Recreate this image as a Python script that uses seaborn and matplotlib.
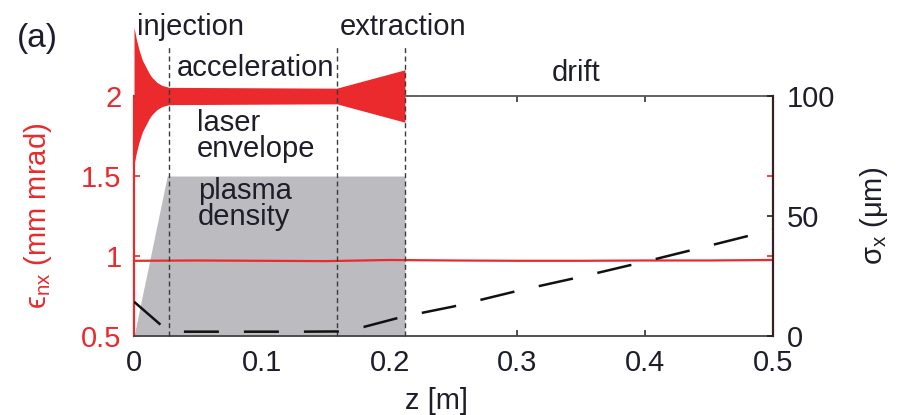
import matplotlib
matplotlib.use("Agg")
import matplotlib.pyplot as plt
import pandas as pd
import seaborn as sns

# ---- data -------------------------------------------------------------
# laser envelope (half width in emittance-axis units around its centre)
env_z = [0.0, 0.002, 0.004, 0.0065, 0.0094, 0.012, 0.014, 0.018, 0.022, 0.0275, 0.1586, 0.212]
env_half = [0.43, 0.35, 0.287, 0.225, 0.18, 0.14, 0.117, 0.085, 0.066, 0.054, 0.049, 0.164]
env_center = 2.0

# plasma density profile (drawn on the emittance axis)
dens_z = [0.0, 0.026, 0.212]
dens_top = [0.5, 1.5, 1.5]

# normalised emittance (mm mrad)
emit_z = [0.0, 0.05, 0.10, 0.15, 0.20, 0.25, 0.30, 0.35, 0.40, 0.45, 0.50]
emit_val = [0.970, 0.972, 0.970, 0.968, 0.975, 0.972, 0.970, 0.970, 0.972, 0.972, 0.975]

# rms beam size (um)
sigma_z = [0.0, 0.021, 0.03, 0.04, 0.07, 0.10, 0.13, 0.16, 0.18, 0.21, 0.25, 0.30, 0.35, 0.40, 0.45, 0.50]
sigma_val = [14.3, 4.6, 2.2, 1.8, 1.8, 1.8, 1.8, 1.9, 3.8, 8.0, 12.3, 18.8, 24.7, 31.0, 37.6, 44.3]

# stage boundaries (m)
stage_z = [0.0274, 0.1586, 0.212]

x_ticks = [0, 0.1, 0.2, 0.3, 0.4, 0.5]
x_ticklabels = ["0", "0.1", "0.2", "0.3", "0.4", "0.5"]
emit_ticks = [0.5, 1.0, 1.5, 2.0]
emit_ticklabels = ["0.5", "1", "1.5", "2"]
sigma_ticks = [0, 50, 100]
sigma_ticklabels = ["0", "50", "100"]

# ---- style ------------------------------------------------------------
sns.set_style("white")
plt.rcParams["font.family"] = ["Liberation Sans", "DejaVu Sans"]
plt.rcParams["mathtext.fontset"] = "custom"
plt.rcParams["mathtext.rm"] = "Liberation Sans"
plt.rcParams["mathtext.it"] = "Liberation Sans:italic"

RED = "#ea2a2c"
DARK = "#1e1e2a"
FS = 21

fig = plt.figure(figsize=(9.01, 4.15), dpi=100)
ax = fig.add_axes([134 / 901, 1 - 336 / 415, 639 / 901, 240 / 415])
ax2 = ax.twinx()

# plasma density
ax.fill_between(dens_z, 0.5, dens_top, color="#bcbcc0", lw=0, zorder=1)

# laser envelope
lo = [env_center - h for h in env_half]
hi = [env_center + h for h in env_half]
ax.fill_between(env_z, lo, hi, color=RED, lw=0, zorder=3, clip_on=False)

# emittance
emit_df = pd.DataFrame({"z": emit_z, "eps": emit_val})
sns.lineplot(data=emit_df, x="z", y="eps", ax=ax, color=RED, lw=1.6, zorder=4)

# stage boundaries
for zs in stage_z:
    ax.plot([zs, zs], [0.5, 2.32], color="#3a3a3a", lw=1.0,
            linestyle=(0, (3.6, 2.4)), zorder=5, clip_on=False)

# beam size on the right axis
sig_df = pd.DataFrame({"z": sigma_z, "sig": sigma_val})
sns.lineplot(data=sig_df, x="z", y="sig", ax=ax2, color="#111111", lw=1.8,
             linestyle=(0, (14, 10)))

# ---- axes -------------------------------------------------------------
ax.set_xlim(0, 0.5)
ax.set_ylim(0.5, 2.0)
ax2.set_ylim(0, 100)

ax.set_xticks(x_ticks)
ax.set_xticklabels(x_ticklabels)
ax.set_yticks(emit_ticks)
ax.set_yticklabels(emit_ticklabels)
ax2.set_yticks(sigma_ticks)
ax2.set_yticklabels(sigma_ticklabels)

ax.tick_params(axis="x", direction="in", length=4, width=1.2, colors="#333333",
               labelcolor=DARK, labelsize=FS, pad=9, top=True, bottom=True)
ax.tick_params(axis="y", direction="in", length=4, width=1.2, colors=RED,
               labelcolor=RED, labelsize=FS, pad=9, left=True, right=True)
ax2.tick_params(axis="y", direction="in", length=4, width=1.2, colors="#222222",
                labelcolor=DARK, labelsize=FS, pad=10, right=True, left=False)

ax.spines["right"].set_visible(False)
ax.spines["left"].set_color(RED)
ax.spines["left"].set_linewidth(1.6)
ax.spines["bottom"].set_color("#444444")
ax.spines["bottom"].set_linewidth(1.3)
ax.spines["top"].set_color("#555555")
ax.spines["top"].set_linewidth(1.3)
ax2.spines["left"].set_visible(False)
ax2.spines["top"].set_visible(False)
ax2.spines["bottom"].set_visible(False)
ax2.spines["right"].set_color("#3a2020")
ax2.spines["right"].set_linewidth(1.6)

ax.set_xlabel("z [m]", fontsize=FS, color=DARK)
ax.xaxis.set_label_coords(0.474, -0.212)
ax.set_ylabel(r"$\mathregular{ϵ_{nx}}$ (mm mrad)", fontsize=FS, color=RED)
ax.yaxis.set_label_coords(-0.125, 0.5)
ax2.set_ylabel(r"$\mathregular{σ_x}$ (μm)", fontsize=FS, color=DARK)
ax2.yaxis.set_label_coords(1.133, 0.5)

# ---- annotations ------------------------------------------------------
# two-line labels are anchored at the baseline of their last line
labels = [
    ("injection", 0.0023, 2.381),
    ("extraction", 0.161, 2.381),
    ("acceleration", 0.0336, 2.125),
    ("drift", 0.327, 2.094),
    ("laser\nenvelope", 0.0493, 1.619),
    ("plasma\ndensity", 0.050, 1.194),
]
for txt, xz, ye in labels:
    ax.text(xz, ye, txt, fontsize=FS, color=DARK, ha="left", va="baseline",
            linespacing=0.92, zorder=6, clip_on=False)

fig.text(17 / 901, 1 - 47 / 415, "(a)", fontsize=24, color=DARK,
         ha="left", va="baseline")

fig.savefig("out.png", dpi=100)
